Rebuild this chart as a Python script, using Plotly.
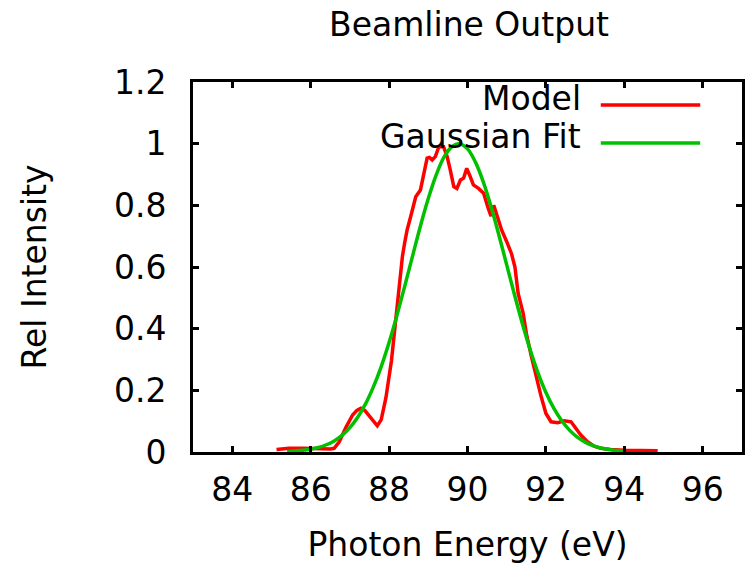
import plotly.graph_objects as go

# Model curve
model_x = [85.13, 85.45, 85.8, 86.1, 86.5, 86.6, 86.73, 86.9, 87.07, 87.18, 87.28, 87.38, 87.5,
           87.62, 87.7, 87.8, 87.92, 88.06, 88.15, 88.21, 88.27, 88.34, 88.40, 88.46, 88.55,
           88.62, 88.68, 88.8, 88.89, 88.97, 89.03, 89.10, 89.18, 89.27, 89.39, 89.48, 89.56,
           89.65, 89.73, 89.82, 89.90, 89.98, 90.07, 90.15, 90.28, 90.41, 90.53, 90.6, 90.67,
           90.74, 90.87, 91.0, 91.12, 91.21, 91.29, 91.42, 91.50, 91.63, 91.75, 91.88, 92.0,
           92.13, 92.30, 92.47, 92.64, 92.77, 92.89, 93.06, 93.23, 93.40, 93.65, 94.0, 94.4, 94.85]
model_y = [0.008, 0.012, 0.012, 0.010, 0.010, 0.012, 0.033, 0.080, 0.120, 0.135, 0.142, 0.135, 0.115,
           0.095, 0.085, 0.105, 0.176, 0.295, 0.400, 0.471, 0.560, 0.634, 0.680, 0.720, 0.763,
           0.800, 0.828, 0.850, 0.904, 0.953, 0.955, 0.947, 0.958, 0.990, 0.990, 0.958, 0.915,
           0.861, 0.855, 0.882, 0.888, 0.920, 0.893, 0.866, 0.855, 0.839, 0.790, 0.765, 0.800,
           0.774, 0.720, 0.682, 0.644, 0.600, 0.515, 0.450, 0.385, 0.309, 0.244, 0.179, 0.125,
           0.098, 0.095, 0.101, 0.098, 0.077, 0.055, 0.033, 0.019, 0.012, 0.008, 0.006, 0.006, 0.004]

# Gaussian fit curve
fit_x = [85.4, 85.6, 85.8, 86.0, 86.2, 86.4, 86.6, 86.8, 87.0, 87.2, 87.4, 87.6, 87.8, 88.0,
         88.2, 88.4, 88.6, 88.8, 89.0, 89.2, 89.4, 89.6, 89.8, 90.0, 90.2, 90.4, 90.6, 90.8,
         91.0, 91.2, 91.4, 91.6, 91.8, 92.0, 92.2, 92.4, 92.6, 92.8, 93.0, 93.2, 93.4, 93.6,
         93.8, 94.0]
fit_y = [0.0018, 0.0032, 0.0055, 0.0091, 0.0148, 0.0235, 0.036, 0.054, 0.079, 0.113, 0.156,
         0.211, 0.277, 0.355, 0.443, 0.538, 0.636, 0.733, 0.822, 0.898, 0.956, 0.990, 1.000,
         0.983, 0.941, 0.877, 0.796, 0.704, 0.607, 0.509, 0.416, 0.331, 0.256, 0.193, 0.142,
         0.102, 0.071, 0.048, 0.032, 0.0205, 0.0128, 0.0078, 0.0047, 0.0027]

x_ticks = [84, 86, 88, 90, 92, 94, 96]
y_ticks = [0, 0.2, 0.4, 0.6, 0.8, 1.0, 1.2]
y_tick_text = ["0", "0.2", "0.4", "0.6", "0.8", "1", "1.2"]

RED = "#ff0000"
GREEN = "#00c000"
FONT = "DejaVu Sans"
FS = 33
LW = 3.5

fig = go.Figure()
fig.add_trace(go.Scatter(x=model_x, y=model_y, mode="lines", name="Model",
                         line=dict(color=RED, width=LW), showlegend=False))
fig.add_trace(go.Scatter(x=fit_x, y=fit_y, mode="lines", name="Gaussian Fit",
                         line=dict(color=GREEN, width=LW, shape="spline"), showlegend=False))

W, H = 749, 564
L, R, T, B = 193, 4, 82, 112

axis_common = dict(showline=True, linecolor="black", linewidth=2.8, mirror="ticks",
                   ticks="inside", ticklen=6, tickwidth=2.8, tickcolor="black",
                   showgrid=False, zeroline=False,
                   tickfont=dict(family=FONT, size=FS, color="black"))

fig.update_layout(
    width=W, height=H,
    margin=dict(l=L, r=R, t=T, b=B),
    paper_bgcolor="white", plot_bgcolor="white",
    font=dict(family=FONT, size=FS, color="black"),
    title=dict(text="Beamline Output", x=(L + (W - R)) / 2 / W, xanchor="center",
               y=1 - 24.5 / H, yanchor="middle", yref="container",
               font=dict(family=FONT, size=FS, color="black")),
    xaxis=dict(range=[83, 97], tickvals=x_ticks, ticktext=[str(v) for v in x_ticks],
               ticklabelstandoff=6,
               title=dict(text="Photon Energy (eV)", standoff=28,
                          font=dict(family=FONT, size=FS, color="black")),
               **axis_common),
    yaxis=dict(range=[0, 1.2], tickvals=y_ticks, ticktext=y_tick_text,
               ticklabelstandoff=17,
               title=dict(text="Rel Intensity", standoff=58,
                          font=dict(family=FONT, size=FS, color="black")),
               **axis_common),
)

# Gnuplot-style key: label on the left, line sample on the right
legend_items = [("Model", RED, 98, 105), ("Gaussian Fit", GREEN, 136, 143)]
for label, color, ty, ly in legend_items:
    fig.add_annotation(text=label, xref="paper", yref="paper",
                       x=(585 - L) / (W - L - R), y=1 - (ty - T) / (H - T - B),
                       xanchor="right", yanchor="middle", showarrow=False,
                       font=dict(family=FONT, size=FS, color="black"))
    fig.add_shape(type="line", xref="paper", yref="paper",
                  x0=(603 - L) / (W - L - R), x1=(703 - L) / (W - L - R),
                  y0=1 - (ly - T) / (H - T - B), y1=1 - (ly - T) / (H - T - B),
                  line=dict(color=color, width=LW))

fig.write_html("out.html")
